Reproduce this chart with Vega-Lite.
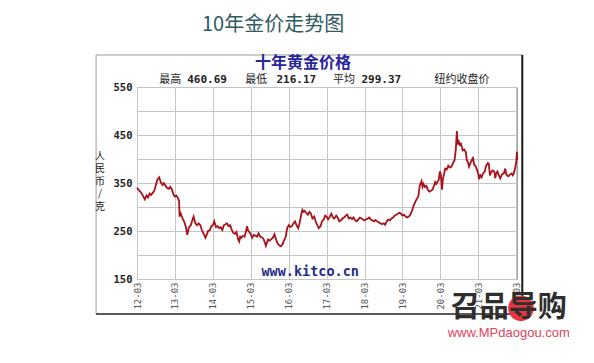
{
  "$schema": "https://vega.github.io/schema/vega-lite/v6.json",
  "width": 380,
  "height": 192,
  "autosize": {"type": "none"},
  "padding": {"left": 137, "top": 87, "right": 77, "bottom": 84},
  "background": "white",
  "config": {
    "view": {"stroke": "#a0a0a0", "strokeWidth": 1},
    "font": "Noto Sans CJK SC",
    "axis": {"labelOverlap": false, "labelFlush": false, "ticks": false, "domain": false, "gridColor": "#c4c4c4", "gridWidth": 1, "title": null, "tickCount": 30},
    "axisX": {"labelAngle": 270, "labelFont": "DejaVu Sans Mono", "labelFontSize": 9, "labelColor": "#555555", "labelPadding": 3},
    "axisY": {"labelFont": "DejaVu Sans Mono", "labelFontSize": 10.5, "labelFontWeight": "bold", "labelColor": "#222222", "labelPadding": 5}
  },
  "datasets": {
    "one": [{}],
    "gold": [
      {"d":"2012-03-01","p":340},{"d":"2012-03-15","p":336},{"d":"2012-04-01","p":332},{"d":"2012-04-15","p":328},
      {"d":"2012-05-01","p":322},{"d":"2012-05-15","p":316},{"d":"2012-06-01","p":324},{"d":"2012-06-15","p":320},
      {"d":"2012-07-01","p":328},{"d":"2012-07-15","p":325},{"d":"2012-08-01","p":330},{"d":"2012-08-15","p":334},
      {"d":"2012-09-01","p":348},{"d":"2012-09-15","p":358},{"d":"2012-10-01","p":362},{"d":"2012-10-15","p":352},
      {"d":"2012-11-01","p":346},{"d":"2012-11-15","p":350},{"d":"2012-12-01","p":344},{"d":"2012-12-15","p":340},
      {"d":"2013-01-01","p":338},{"d":"2013-01-15","p":342},{"d":"2013-02-01","p":336},{"d":"2013-02-15","p":326},
      {"d":"2013-03-01","p":322},{"d":"2013-03-15","p":324},{"d":"2013-04-01","p":318},{"d":"2013-04-10","p":312},
      {"d":"2013-04-15","p":280},{"d":"2013-04-20","p":290},{"d":"2013-05-01","p":283},{"d":"2013-05-15","p":276},
      {"d":"2013-06-01","p":268},{"d":"2013-06-15","p":258},{"d":"2013-06-28","p":242},{"d":"2013-07-15","p":258},
      {"d":"2013-08-01","p":262},{"d":"2013-08-15","p":272},{"d":"2013-08-28","p":280},{"d":"2013-09-15","p":265},
      {"d":"2013-10-01","p":262},{"d":"2013-10-15","p":266},{"d":"2013-11-01","p":262},{"d":"2013-11-15","p":252},
      {"d":"2013-12-01","p":245},{"d":"2013-12-20","p":236},
      {"d":"2014-01-01","p":242},{"d":"2014-01-15","p":250},{"d":"2014-02-01","p":252},{"d":"2014-02-15","p":260},
      {"d":"2014-03-01","p":262},{"d":"2014-03-15","p":270},{"d":"2014-04-01","p":258},{"d":"2014-04-15","p":260},
      {"d":"2014-05-01","p":256},{"d":"2014-05-15","p":258},{"d":"2014-06-01","p":252},{"d":"2014-06-15","p":262},
      {"d":"2014-07-01","p":264},{"d":"2014-07-15","p":266},{"d":"2014-08-01","p":260},{"d":"2014-08-15","p":262},
      {"d":"2014-09-01","p":252},{"d":"2014-09-15","p":246},{"d":"2014-10-01","p":244},{"d":"2014-10-15","p":248},
      {"d":"2014-11-01","p":232},{"d":"2014-11-10","p":228},{"d":"2014-11-20","p":238},{"d":"2014-12-01","p":236},
      {"d":"2014-12-15","p":240},
      {"d":"2015-01-01","p":238},{"d":"2015-01-15","p":250},{"d":"2015-01-25","p":260},{"d":"2015-02-01","p":252},
      {"d":"2015-02-15","p":248},{"d":"2015-03-01","p":244},{"d":"2015-03-15","p":236},{"d":"2015-04-01","p":242},
      {"d":"2015-04-15","p":240},{"d":"2015-05-01","p":238},{"d":"2015-05-15","p":245},{"d":"2015-06-01","p":238},
      {"d":"2015-06-15","p":237},{"d":"2015-07-01","p":234},{"d":"2015-07-15","p":226},{"d":"2015-07-25","p":219},
      {"d":"2015-08-15","p":232},{"d":"2015-09-01","p":230},{"d":"2015-09-15","p":233},{"d":"2015-10-01","p":236},
      {"d":"2015-10-15","p":243},{"d":"2015-11-01","p":232},{"d":"2015-11-15","p":224},{"d":"2015-12-01","p":220},
      {"d":"2015-12-15","p":218},
      {"d":"2016-01-01","p":222},{"d":"2016-01-15","p":230},{"d":"2016-02-01","p":238},{"d":"2016-02-15","p":256},
      {"d":"2016-03-01","p":262},{"d":"2016-03-15","p":258},{"d":"2016-04-01","p":260},{"d":"2016-04-15","p":266},
      {"d":"2016-05-01","p":270},{"d":"2016-05-15","p":262},{"d":"2016-06-01","p":256},{"d":"2016-06-15","p":268},
      {"d":"2016-07-01","p":286},{"d":"2016-07-10","p":294},{"d":"2016-07-20","p":290},{"d":"2016-08-01","p":292},
      {"d":"2016-08-15","p":288},{"d":"2016-09-01","p":284},{"d":"2016-09-15","p":290},{"d":"2016-10-01","p":286},
      {"d":"2016-10-15","p":276},{"d":"2016-11-01","p":280},{"d":"2016-11-15","p":270},{"d":"2016-12-01","p":262},
      {"d":"2016-12-15","p":256},
      {"d":"2017-01-01","p":260},{"d":"2017-01-15","p":270},{"d":"2017-02-01","p":274},{"d":"2017-02-15","p":282},
      {"d":"2017-03-01","p":280},{"d":"2017-03-15","p":274},{"d":"2017-04-01","p":280},{"d":"2017-04-15","p":286},
      {"d":"2017-05-01","p":278},{"d":"2017-05-15","p":276},{"d":"2017-06-01","p":282},{"d":"2017-06-15","p":278},
      {"d":"2017-07-01","p":270},{"d":"2017-07-15","p":272},{"d":"2017-08-01","p":276},{"d":"2017-08-15","p":278},
      {"d":"2017-09-01","p":282},{"d":"2017-09-15","p":284},{"d":"2017-10-01","p":276},{"d":"2017-10-15","p":278},
      {"d":"2017-11-01","p":275},{"d":"2017-11-15","p":278},{"d":"2017-12-01","p":272},{"d":"2017-12-15","p":270},
      {"d":"2018-01-01","p":274},{"d":"2018-01-15","p":278},{"d":"2018-02-01","p":276},{"d":"2018-02-15","p":274},
      {"d":"2018-03-01","p":272},{"d":"2018-03-15","p":274},{"d":"2018-04-01","p":276},{"d":"2018-04-15","p":278},
      {"d":"2018-05-01","p":274},{"d":"2018-05-15","p":272},{"d":"2018-06-01","p":270},{"d":"2018-06-15","p":273},
      {"d":"2018-07-01","p":270},{"d":"2018-07-15","p":268},{"d":"2018-08-01","p":266},{"d":"2018-08-15","p":264},
      {"d":"2018-09-01","p":266},{"d":"2018-09-15","p":263},{"d":"2018-10-01","p":270},{"d":"2018-10-15","p":274},
      {"d":"2018-11-01","p":272},{"d":"2018-11-15","p":276},{"d":"2018-12-01","p":278},{"d":"2018-12-15","p":282},
      {"d":"2019-01-01","p":284},{"d":"2019-01-15","p":286},{"d":"2019-02-01","p":288},{"d":"2019-02-15","p":286},
      {"d":"2019-03-01","p":282},{"d":"2019-03-15","p":284},{"d":"2019-04-01","p":280},{"d":"2019-04-15","p":278},
      {"d":"2019-05-01","p":280},{"d":"2019-05-15","p":284},{"d":"2019-06-01","p":292},{"d":"2019-06-15","p":302},
      {"d":"2019-07-01","p":310},{"d":"2019-07-15","p":316},{"d":"2019-08-01","p":322},{"d":"2019-08-15","p":345},
      {"d":"2019-09-01","p":354},{"d":"2019-09-10","p":342},{"d":"2019-09-20","p":348},{"d":"2019-10-01","p":342},
      {"d":"2019-10-15","p":344},{"d":"2019-11-01","p":336},{"d":"2019-11-15","p":332},{"d":"2019-12-01","p":334},
      {"d":"2019-12-15","p":336},
      {"d":"2020-01-01","p":346},{"d":"2020-01-10","p":352},{"d":"2020-01-20","p":348},{"d":"2020-02-01","p":352},
      {"d":"2020-02-15","p":358},{"d":"2020-02-24","p":374},{"d":"2020-03-05","p":368},{"d":"2020-03-16","p":336},
      {"d":"2020-03-25","p":360},{"d":"2020-04-01","p":364},{"d":"2020-04-15","p":380},{"d":"2020-05-01","p":378},
      {"d":"2020-05-15","p":386},{"d":"2020-06-01","p":382},{"d":"2020-06-15","p":384},{"d":"2020-07-01","p":392},
      {"d":"2020-07-15","p":398},{"d":"2020-07-27","p":420},{"d":"2020-08-06","p":458},{"d":"2020-08-12","p":430},
      {"d":"2020-08-20","p":440},{"d":"2020-09-01","p":430},{"d":"2020-09-15","p":432},{"d":"2020-10-01","p":418},
      {"d":"2020-10-15","p":420},{"d":"2020-11-01","p":414},{"d":"2020-11-09","p":398},{"d":"2020-11-20","p":394},
      {"d":"2020-12-01","p":384},{"d":"2020-12-15","p":392},
      {"d":"2021-01-01","p":400},{"d":"2021-01-08","p":402},{"d":"2021-01-20","p":388},{"d":"2021-02-01","p":386},
      {"d":"2021-02-15","p":378},{"d":"2021-03-01","p":368},{"d":"2021-03-08","p":358},{"d":"2021-03-20","p":366},
      {"d":"2021-04-01","p":362},{"d":"2021-04-15","p":370},{"d":"2021-05-01","p":374},{"d":"2021-05-15","p":386},
      {"d":"2021-06-01","p":392},{"d":"2021-06-10","p":390},{"d":"2021-06-20","p":366},{"d":"2021-07-01","p":372},
      {"d":"2021-07-15","p":376},{"d":"2021-08-01","p":374},{"d":"2021-08-10","p":360},{"d":"2021-08-20","p":370},
      {"d":"2021-09-01","p":374},{"d":"2021-09-15","p":366},{"d":"2021-09-28","p":360},{"d":"2021-10-01","p":362},
      {"d":"2021-10-15","p":368},{"d":"2021-11-01","p":370},{"d":"2021-11-15","p":380},{"d":"2021-11-25","p":368},
      {"d":"2021-12-01","p":366},{"d":"2021-12-15","p":364},
      {"d":"2022-01-01","p":368},{"d":"2022-01-15","p":370},{"d":"2022-01-26","p":366},{"d":"2022-02-01","p":368},
      {"d":"2022-02-15","p":378},{"d":"2022-02-24","p":388},{"d":"2022-03-01","p":396},{"d":"2022-03-08","p":415},
      {"d":"2022-03-10","p":398}
    ]
  },
  "layer": [
    {
      "data": {"name": "gold"},
      "mark": {"type": "line", "color": "#aa1219", "strokeWidth": 1.8},
      "encoding": {
        "x": {
          "field": "d", "type": "temporal",
          "scale": {"domain": [{"year": 2012, "month": 3, "date": 1}, {"year": 2022, "month": 3, "date": 8}]},
          "axis": {
            "title": null, "format": "%y-%m", "labelOverlap": false, "tickCount": 30,
            "values": [
              {"year": 2012, "month": 3, "date": 1}, {"year": 2013, "month": 3, "date": 1},
              {"year": 2014, "month": 3, "date": 1}, {"year": 2015, "month": 3, "date": 1},
              {"year": 2016, "month": 3, "date": 1}, {"year": 2017, "month": 3, "date": 1},
              {"year": 2018, "month": 3, "date": 1}, {"year": 2019, "month": 3, "date": 1},
              {"year": 2020, "month": 3, "date": 1}, {"year": 2021, "month": 3, "date": 1},
              {"year": 2022, "month": 3, "date": 1}
            ]
          }
        },
        "y": {
          "field": "p", "type": "quantitative",
          "scale": {"domain": [150, 550], "nice": false, "zero": false},
          "axis": {
            "title": null, "tickCount": 30,
            "values": [150, 200, 250, 300, 350, 400, 450, 500, 550],
            "labelExpr": "datum.value % 100 == 50 ? datum.label : ''"
          }
        }
      }
    },
    {
      "data": {"name": "one"},
      "mark": {"type": "rect", "fillOpacity": 0, "stroke": "#9a9a9a", "strokeWidth": 1},
      "encoding": {
        "x": {"datum": {"year": 2011, "month": 2, "date": 1}, "type": "temporal"},
        "x2": {"datum": {"year": 2022, "month": 4, "date": 28}},
        "y": {"datum": 616.7, "type": "quantitative"},
        "y2": {"datum": 77.1}
      }
    },
    {
      "data": {"name": "one"},
      "mark": {"type": "rule", "stroke": "#1a1a1a", "strokeWidth": 2},
      "encoding": {
        "x": {"datum": {"year": 2022, "month": 4, "date": 28}, "type": "temporal"},
        "y": {"datum": 616.7, "type": "quantitative"},
        "y2": {"datum": 77.1}
      }
    },
    {
      "data": {"name": "one"},
      "mark": {"type": "rule", "stroke": "#333333", "strokeWidth": 1.5},
      "encoding": {
        "x": {"datum": {"year": 2011, "month": 2, "date": 1}, "type": "temporal"},
        "x2": {"datum": {"year": 2022, "month": 4, "date": 28}},
        "y": {"datum": 77.1, "type": "quantitative"}
      }
    },
    {
      "data": {"name": "one"},
      "mark": {"type": "text", "font": "Noto Sans CJK SC", "fontSize": 20, "color": "#2f5a62", "align": "center", "baseline": "middle"},
      "encoding": {
        "x": {"datum": {"year": 2015, "month": 10, "date": 2}, "type": "temporal"},
        "y": {"datum": 679, "type": "quantitative"},
        "text": {"value": "10年金价走势图"}
      }
    },
    {
      "data": {"name": "one"},
      "mark": {"type": "text", "font": "Noto Sans CJK SC", "fontSize": 16, "fontWeight": "bold", "color": "#27279a", "align": "center", "baseline": "middle"},
      "encoding": {
        "x": {"datum": {"year": 2016, "month": 7, "date": 17}, "type": "temporal"},
        "y": {"datum": 600, "type": "quantitative"},
        "text": {"value": "十年黄金价格"}
      }
    },
    {
      "data": {"name": "one"},
      "mark": {"type": "text", "font": "Noto Sans CJK SC", "fontSize": 11, "color": "#222222", "align": "center", "baseline": "middle"},
      "encoding": {
        "x": {"datum": {"year": 2013, "month": 1, "date": 14}, "type": "temporal"},
        "y": {"datum": 564.6, "type": "quantitative"},
        "text": {"value": "最高"}
      }
    },
    {
      "data": {"name": "one"},
      "mark": {"type": "text", "font": "DejaVu Sans Mono", "fontSize": 11, "fontWeight": "bold", "color": "#222222", "align": "center", "baseline": "middle"},
      "encoding": {
        "x": {"datum": {"year": 2014, "month": 1, "date": 5}, "type": "temporal"},
        "y": {"datum": 564.6, "type": "quantitative"},
        "text": {"value": "460.69"}
      }
    },
    {
      "data": {"name": "one"},
      "mark": {"type": "text", "font": "Noto Sans CJK SC", "fontSize": 11, "color": "#222222", "align": "center", "baseline": "middle"},
      "encoding": {
        "x": {"datum": {"year": 2015, "month": 4, "date": 24}, "type": "temporal"},
        "y": {"datum": 564.6, "type": "quantitative"},
        "text": {"value": "最低"}
      }
    },
    {
      "data": {"name": "one"},
      "mark": {"type": "text", "font": "DejaVu Sans Mono", "fontSize": 11, "fontWeight": "bold", "color": "#222222", "align": "center", "baseline": "middle"},
      "encoding": {
        "x": {"datum": {"year": 2016, "month": 5, "date": 13}, "type": "temporal"},
        "y": {"datum": 564.6, "type": "quantitative"},
        "text": {"value": "216.17"}
      }
    },
    {
      "data": {"name": "one"},
      "mark": {"type": "text", "font": "Noto Sans CJK SC", "fontSize": 11, "color": "#222222", "align": "center", "baseline": "middle"},
      "encoding": {
        "x": {"datum": {"year": 2017, "month": 8, "date": 15}, "type": "temporal"},
        "y": {"datum": 564.6, "type": "quantitative"},
        "text": {"value": "平均"}
      }
    },
    {
      "data": {"name": "one"},
      "mark": {"type": "text", "font": "DejaVu Sans Mono", "fontSize": 11, "fontWeight": "bold", "color": "#222222", "align": "center", "baseline": "middle"},
      "encoding": {
        "x": {"datum": {"year": 2018, "month": 8, "date": 10}, "type": "temporal"},
        "y": {"datum": 564.6, "type": "quantitative"},
        "text": {"value": "299.37"}
      }
    },
    {
      "data": {"name": "one"},
      "mark": {"type": "text", "font": "Noto Sans CJK SC", "fontSize": 11, "color": "#222222", "align": "center", "baseline": "middle"},
      "encoding": {
        "x": {"datum": {"year": 2020, "month": 9, "date": 24}, "type": "temporal"},
        "y": {"datum": 564.6, "type": "quantitative"},
        "text": {"value": "纽约收盘价"}
      }
    },
    {
      "data": {"name": "one"},
      "mark": {"type": "text", "font": "Noto Sans CJK SC", "fontSize": 10, "lineHeight": 12.5, "color": "#222222", "align": "center", "baseline": "middle"},
      "encoding": {
        "x": {"datum": {"year": 2011, "month": 3, "date": 10}, "type": "temporal"},
        "y": {"datum": 405, "type": "quantitative"},
        "text": {"value": ["人", "民", "币", "/", "克"]}
      }
    },
    {
      "data": {"name": "one"},
      "mark": {"type": "text", "font": "DejaVu Sans Mono", "fontSize": 13.5, "fontWeight": "bold", "color": "#1f2c8c", "align": "center", "baseline": "middle"},
      "encoding": {
        "x": {"datum": {"year": 2016, "month": 9, "date": 24}, "type": "temporal"},
        "y": {"datum": 164.6, "type": "quantitative"},
        "text": {"value": "www.kitco.cn"}
      }
    },
    {
      "data": {"name": "one"},
      "mark": {"type": "point", "shape": "circle", "filled": true, "color": "#e8343e", "size": 660, "opacity": 1},
      "encoding": {
        "x": {"datum": {"year": 2022, "month": 4, "date": 15}, "type": "temporal"},
        "y": {"datum": 89, "type": "quantitative"}
      }
    },
    {
      "data": {"name": "one"},
      "mark": {"type": "text", "font": "Noto Sans CJK SC", "fontSize": 29, "fontWeight": "bold", "color": "#2e2e2e", "align": "center", "baseline": "middle"},
      "encoding": {
        "x": {"datum": {"year": 2021, "month": 12, "date": 18}, "type": "temporal"},
        "y": {"datum": 89, "type": "quantitative"},
        "text": {"value": "召品导购"}
      }
    },
    {
      "data": {"name": "one"},
      "mark": {"type": "text", "font": "Liberation Sans", "fontSize": 13, "color": "#e0455a", "align": "center", "baseline": "middle"},
      "encoding": {
        "x": {"datum": {"year": 2021, "month": 12, "date": 19}, "type": "temporal"},
        "y": {"datum": 37.5, "type": "quantitative"},
        "text": {"value": "www.MPdaogou.com"}
      }
    }
  ]
}
